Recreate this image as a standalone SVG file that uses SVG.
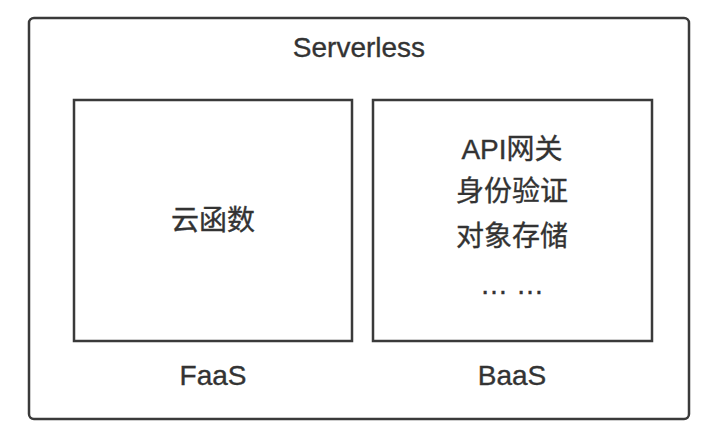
<svg xmlns="http://www.w3.org/2000/svg" width="701" height="434" viewBox="0 0 701 434">
<style>
.box{fill:#fff;stroke:#3a3a3a;stroke-width:2.5}
.t{font-family:"Liberation Sans","Noto Sans CJK SC",sans-serif;font-size:28px;fill:#333;stroke:#333;stroke-width:0.35;text-anchor:middle}
</style>
<rect width="701" height="434" fill="#fff"/>
<g id="serverless">
<rect class="box" x="29" y="18" width="660" height="401" rx="5"/>
<text class="t" x="359" y="57">Serverless</text>
</g>
<g id="faas">
<rect class="box" x="74" y="100" width="278" height="241"/>
<text class="t" x="213" y="230">云函数</text>
<text class="t" x="213" y="385">FaaS</text>
</g>
<g id="baas">
<rect class="box" x="373" y="100" width="279" height="241"/>
<text class="t" x="512" y="159">API网关</text>
<text class="t" x="512" y="201">身份验证</text>
<text class="t" x="512" y="246">对象存储</text>
<text class="t" x="512" y="294">… …</text>
<text class="t" x="512" y="385">BaaS</text>
</g>
<g id="connectors"></g>
</svg>
